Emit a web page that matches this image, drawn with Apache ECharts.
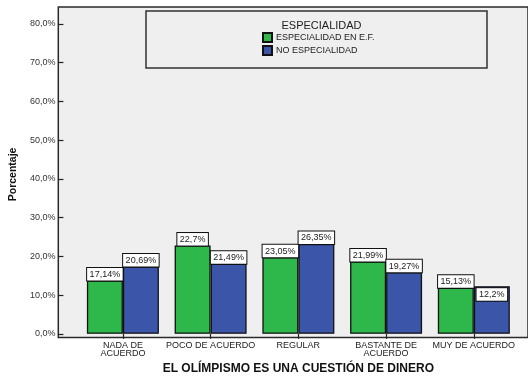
<!DOCTYPE html>
<html>
<head>
<meta charset="utf-8">
<script src="https://cdn.jsdelivr.net/npm/echarts@6/dist/echarts.min.js"></script>
<style>html,body{margin:0;padding:0;background:#fff;}#c{width:528px;height:380px;}</style>
</head>
<body>
<div id="c"></div>
<script>
var categories = ['NADA DE\nACUERDO', 'POCO DE ACUERDO', 'REGULAR', 'BASTANTE DE\nACUERDO', 'MUY DE ACUERDO'];
var seriesNames = ['ESPECIALIDAD EN E.F.', 'NO ESPECIALIDAD'];
var greenValues = [13.8, 22.8, 19.8, 18.7, 11.9];
var blueValues = [17.4, 18.1, 23.2, 15.9, 12.3];
var greenLabels = ['17,14%', '22,7%', '23,05%', '21,99%', '15,13%'];
var blueLabels = ['20,69%', '21,49%', '26,35%', '19,27%', '12,2%'];
var yTickLabels = ['0,0%', '10,0%', '20,0%', '30,0%', '40,0%', '50,0%', '60,0%', '70,0%', '80,0%'];
var legendTitle = 'ESPECIALIDAD';
var xTitle = 'EL OLÍMPISMO ES UNA CUESTIÓN DE DINERO';
var yTitle = 'Porcentaje';

var FONT = '"Liberation Sans", Arial, Helvetica, sans-serif';
var chart = echarts.init(document.getElementById('c'), null, {renderer: 'canvas'});

var labelBox = {
  show: true,
  position: 'top',
  distance: 0,
  color: '#222',
  fontFamily: FONT,
  fontSize: 9,
  lineHeight: 10,
  backgroundColor: '#fff',
  borderColor: '#111',
  borderWidth: 1,
  padding: [1.5, 2.5, 1, 2.5]
};

function buildData(vals, labels, insideIdx) {
  return vals.map(function (v, i) {
    var d = {value: v};
    if (insideIdx.indexOf(i) >= 0) {
      d.label = {position: 'insideTop', distance: 2};
    }
    return d;
  });
}

var option = {
  animation: false,
  backgroundColor: '#ffffff',
  textStyle: {fontFamily: FONT},
  title: {
    text: legendTitle,
    left: 316.5,
    top: 15,
    textAlign: 'center',
    textStyle: {fontFamily: FONT, fontSize: 11, fontWeight: 'normal', color: '#222'}
  },
  legend: {
    orient: 'vertical',
    left: 262,
    top: 32,
    itemWidth: 9,
    itemHeight: 9,
    itemGap: 2,
    padding: 0,
    icon: 'rect',
    textStyle: {fontFamily: FONT, fontSize: 9, color: '#222', lineHeight: 9, padding: [0, 0, 0, -1]},
    data: seriesNames
  },
  graphic: [{
    type: 'rect',
    z: 100,
    shape: {x: 146, y: 11, width: 341, height: 57},
    style: {fill: 'none', stroke: '#333', lineWidth: 1.5}
  }],
  grid: [
    {left: 58.3, right: -5, top: 7, bottom: 42.5, show: true, backgroundColor: '#efefef', borderColor: '#2a2a2a', borderWidth: 1.5, z: 0},
    {left: 73.9, right: 10.3, top: 24, bottom: 42.5}
  ],
  xAxis: [
    {gridIndex: 0, type: 'value', min: 0, max: 1, show: false},
    {
      gridIndex: 1,
      type: 'category',
      data: categories,
      axisLine: {show: false},
      axisTick: {show: true, alignWithLabel: true, length: 5, lineStyle: {color: '#222', width: 1.2}},
      axisLabel: {fontFamily: FONT, fontSize: 9, color: '#222', lineHeight: 8.5, margin: 7, interval: 0},
      name: xTitle,
      nameLocation: 'middle',
      nameGap: 28,
      nameTextStyle: {fontFamily: FONT, fontSize: 12, fontWeight: 'bold', color: '#111'}
    }
  ],
  yAxis: [
    {gridIndex: 0, type: 'value', min: 0, max: 1, show: false},
    {
      gridIndex: 1,
      type: 'value',
      min: 0,
      max: 80,
      interval: 10,
      offset: 15.6,
      axisLine: {show: false},
      axisTick: {show: true, length: 5, lineStyle: {color: '#222', width: 1.2}},
      splitLine: {show: false},
      axisLabel: {
        fontFamily: FONT, fontSize: 9, color: '#333', margin: 8,
        formatter: function (v) { return yTickLabels[Math.round(v / 10)]; }
      },
      name: yTitle,
      nameLocation: 'middle',
      nameRotate: 90,
      nameGap: 37,
      nameTextStyle: {fontFamily: FONT, fontSize: 10.5, fontWeight: 'bold', color: '#111', padding: [0, 0, 0, 9]}
    }
  ],
  series: [
    {
      name: seriesNames[0],
      type: 'bar',
      xAxisIndex: 1,
      yAxisIndex: 1,
      barWidth: 36,
      barGap: '0%',
      itemStyle: {color: '#2eb84b', borderColor: '#111', borderWidth: 1.3},
      label: Object.assign({}, labelBox, {formatter: function (p) { return greenLabels[p.dataIndex]; }}),
      data: buildData(greenValues, greenLabels, [])
    },
    {
      name: seriesNames[1],
      type: 'bar',
      xAxisIndex: 1,
      yAxisIndex: 1,
      barWidth: 36,
      barGap: '0%',
      itemStyle: {color: '#3b55a9', borderColor: '#111', borderWidth: 1.3},
      label: Object.assign({}, labelBox, {formatter: function (p) { return blueLabels[p.dataIndex]; }}),
      data: buildData(blueValues, blueLabels, [4])
    }
  ]
};
chart.setOption(option);
</script>
</body>
</html>
